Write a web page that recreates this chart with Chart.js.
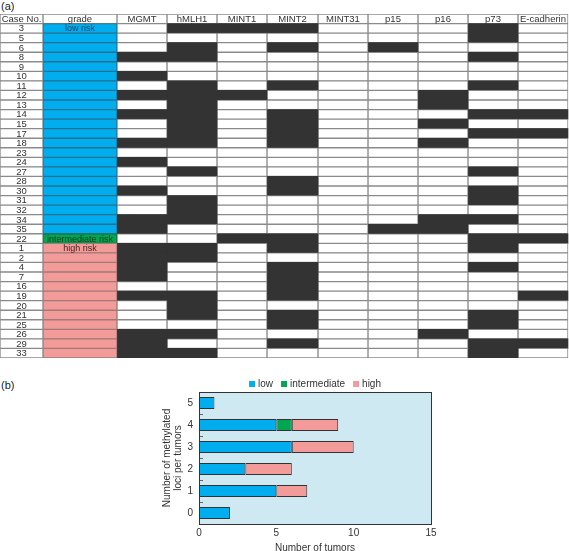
<!DOCTYPE html>
<html>
<head>
<meta charset="utf-8">
<script src="https://cdn.jsdelivr.net/npm/chart.js@4.4.1/dist/chart.umd.min.js"></script>
<style>
body { margin: 0; background: #fff; width: 569px; height: 551px; position: relative; overflow: hidden; font-family: "Liberation Sans", Arial, sans-serif; }
.panel { position: absolute; font-size: 11px; color: #222; }
#tableWrap { position: absolute; left: 0; top: 14px; width: 569px; height: 344px; }
#barWrap { position: absolute; left: 0; top: 376px; width: 569px; height: 175px; }
</style>
</head>
<body>
<div class="panel" style="left:1px;top:0px">(a)</div>
<div class="panel" style="left:1px;top:379px">(b)</div>
<div id="tableWrap"><canvas id="tableChart"></canvas></div>
<div id="barWrap"><canvas id="barChart"></canvas></div>
<script>
// (a) methylation status per case, in table order
const caseNumbers = [3, 5, 6, 8, 9, 10, 11, 12, 13, 14, 15, 17, 18, 23, 24, 27, 28, 30, 31, 32, 34, 35, 22, 1, 2, 4, 7, 16, 19, 20, 21, 25, 26, 29, 33];
const riskGrades = ["low", "low", "low", "low", "low", "low", "low", "low", "low", "low", "low", "low", "low", "low", "low", "low", "low", "low", "low", "low", "low", "low",
    "intermediate",
    "high", "high", "high", "high", "high", "high", "high", "high", "high", "high", "high", "high"];
const loci = ["MGMT", "hMLH1", "MINT1", "MINT2", "MINT31", "p15", "p16", "p73", "E-cadherin"];

const MGMT   = [0,0,0,1,0,1,0,1,0,1,0,0,1,0,1,0,0,1,0,0,1,1,0,1,1,1,1,0,1,0,0,0,1,1,1];
const hMLH1  = [1,0,1,1,0,0,1,1,1,1,1,1,1,0,0,1,0,0,1,1,1,0,0,1,1,0,0,0,1,1,1,0,1,0,1];
const MINT1  = [1,0,0,0,0,0,0,1,0,0,0,0,0,0,0,0,0,0,0,0,0,0,1,0,0,0,0,0,0,0,0,0,0,0,0];
const MINT2  = [1,0,1,0,0,0,1,0,0,1,1,1,1,0,0,0,1,1,0,0,0,0,1,1,0,1,1,1,1,0,1,1,0,1,0];
const MINT31 = [0,0,0,0,0,0,0,0,0,0,0,0,0,0,0,0,0,0,0,0,0,0,0,0,0,0,0,0,0,0,0,0,0,0,0];
const p15    = [0,0,1,0,0,0,0,0,0,0,0,0,0,0,0,0,0,0,0,0,0,1,0,0,0,0,0,0,0,0,0,0,0,0,0];
const p16    = [0,0,0,0,0,0,0,1,1,0,1,0,1,0,0,0,0,0,0,0,1,1,0,0,0,0,0,0,0,0,0,0,1,0,0];
const p73    = [1,1,0,1,0,0,1,0,0,1,0,1,0,0,0,1,0,1,1,0,1,0,1,1,0,1,0,0,0,0,1,1,0,1,1];
const ECAD   = [0,0,0,0,0,0,0,0,0,1,0,1,0,0,0,0,0,0,0,0,0,0,1,0,0,0,0,0,1,0,0,0,0,1,0];

// (b) number of tumors per count of methylated loci
const lociCounts = ["0", "1", "2", "3", "4", "5"];
const lowRisk = [2, 5, 3, 6, 5, 1];
const intermediateRisk = [0, 0, 0, 0, 1, 0];
const highRisk = [0, 2, 3, 4, 3, 0];

Chart.defaults.font.family = '"Liberation Sans", Arial, sans-serif';
Chart.defaults.font.size = 10;
Chart.defaults.color = "#333";

const methylation = [MGMT, hMLH1, MINT1, MINT2, MINT31, p15, p16, p73, ECAD];
const headers = ["Case No.", "grade"].concat(loci);
const rowLabels = ["Case No."].concat(caseNumbers.map(String));
const colEdges = [0, 43, 117, 167, 217, 267, 318, 368, 418, 468, 518, 568];
const gradeColors = { low: "#00aeef", intermediate: "#00a651", high: "#f29b98" };
const gradeLines = { low: "#2a6f8c", intermediate: "#1d6b3c", high: "#a07a7a" };
const gradeText = { low: "#1d3f5a", intermediate: "#0f3a1c", high: "#4a2222" };

function cellColor(c, r) {
    if (r === 0 || c === 0) return "#fff";
    if (c === 1) return gradeColors[riskGrades[r - 1]];
    return methylation[c - 2][r - 1] ? "#333" : "#fff";
}

function isDark(c, r) {
    return r > 0 && c > 1 && methylation[c - 2][r - 1] === 1;
}

const cellText = {
    id: "cellText",
    afterDatasetsDraw(chart) {
        const { ctx, scales: { x, y } } = chart;
        const mid = c => x.getPixelForValue((colEdges[c] + colEdges[c + 1]) / 2);
        ctx.save();
        ctx.font = '9.5px "Liberation Sans", Arial, sans-serif';
        ctx.textAlign = "center";
        ctx.textBaseline = "middle";
        ctx.fillStyle = "#333";
        headers.forEach((h, c) => ctx.fillText(h, mid(c), y.getPixelForValue(0) + 0.5));
        caseNumbers.forEach((n, i) => ctx.fillText(String(n), mid(0), y.getPixelForValue(i + 1) + 0.5));
        ctx.font = '9px "Liberation Sans", Arial, sans-serif';
        riskGrades.forEach((g, i) => {
            if (i === 0 || riskGrades[i - 1] !== g) {
                ctx.fillStyle = gradeText[g];
                ctx.fillText(g + " risk", mid(1), y.getPixelForValue(i + 1) + 0.5);
            }
        });
        ctx.restore();
    }
};

new Chart(document.getElementById("tableChart"), {
    type: "bar",
    data: {
        labels: rowLabels,
        datasets: headers.map((h, c) => ({
            label: h,
            data: rowLabels.map(() => [colEdges[c], colEdges[c + 1]]),
            grouped: false,
            barPercentage: 1,
            categoryPercentage: 1,
            borderSkipped: false,
            backgroundColor: ctx => cellColor(c, ctx.dataIndex),
            borderColor: ctx => (c === 1 && ctx.dataIndex > 0) ? gradeLines[riskGrades[ctx.dataIndex - 1]] : "#8a8a8a",
            borderWidth: ctx => isDark(c, ctx.dataIndex) ? 0 : 1
        }))
    },
    options: {
        indexAxis: "y",
        responsive: true,
        maintainAspectRatio: false,
        animation: false,
        layout: { padding: 0 },
        scales: {
            x: { type: "linear", min: 0, max: 569, display: false },
            y: { type: "category", display: false }
        },
        plugins: { legend: { display: false }, tooltip: { enabled: false } }
    },
    plugins: [cellText]
});

const plotFrame = {
    id: "plotFrame",
    beforeDraw(chart) {
        const { ctx, chartArea: a } = chart;
        ctx.save();
        ctx.fillStyle = "#cfe9f2";
        ctx.fillRect(a.left, a.top, a.right - a.left, a.bottom - a.top);
        ctx.restore();
    },
    afterDraw(chart) {
        const { ctx, chartArea: a } = chart;
        ctx.save();
        ctx.strokeStyle = "#333";
        ctx.lineWidth = 1;
        ctx.strokeRect(Math.round(a.left) + 0.5, Math.round(a.top) + 0.5, Math.round(a.right - a.left), Math.round(a.bottom - a.top));
        ctx.restore();
    }
};

const riskLegend = {
    id: "riskLegend",
    afterDraw(chart) {
        const { ctx, chartArea: a } = chart;
        const sets = chart.data.datasets;
        ctx.save();
        ctx.font = '10px "Liberation Sans", Arial, sans-serif';
        ctx.textBaseline = "middle";
        const box = 6, gap = 3, space = 8;
        const widths = sets.map(d => box + gap + ctx.measureText(d.label).width);
        const total = widths.reduce((s, w) => s + w, 0) + space * (sets.length - 1);
        let x = (a.left + a.right) / 2 - total / 2;
        const y = a.top - 8;
        sets.forEach((d, i) => {
            ctx.fillStyle = d.backgroundColor;
            ctx.fillRect(x, y - box / 2, box, box);
            ctx.fillStyle = "#333";
            ctx.fillText(d.label, x + box + gap, y + 0.5);
            x += widths[i] + space;
        });
        ctx.restore();
    }
};

new Chart(document.getElementById("barChart"), {
    type: "bar",
    data: {
        labels: lociCounts,
        datasets: [
            { label: "low", data: lowRisk.map(v => v || null), backgroundColor: "#00aeef" },
            { label: "intermediate", data: intermediateRisk.map(v => v || null), backgroundColor: "#00a651" },
            { label: "high", data: highRisk.map(v => v || null), backgroundColor: "#f29b98" }
        ]
    },
    options: {
        indexAxis: "y",
        responsive: true,
        maintainAspectRatio: false,
        animation: false,
        layout: { padding: { left: 160, right: 138, top: 15, bottom: 0 } },
        datasets: {
            bar: { borderColor: "#333", borderWidth: 1, borderSkipped: false, categoryPercentage: 0.55, barPercentage: 1 }
        },
        scales: {
            x: {
                stacked: true,
                min: 0,
                max: 15,
                ticks: { stepSize: 5, padding: 3 },
                grid: { display: false, drawTicks: false },
                border: { color: "#333", width: 1 },
                title: { display: true, text: "Number of tumors", padding: { top: 0, bottom: -3 } },
                afterFit: s => { s.height = 27; }
            },
            y: {
                stacked: true,
                reverse: true,
                ticks: { padding: 10 },
                grid: { drawOnChartArea: false, tickLength: -4, color: "#666" },
                border: { color: "#333", width: 1 },
                title: {
                    display: true,
                    text: ["Number of methylated", "loci per tumors"],
                    font: { size: 10, lineHeight: 1.1 },
                    padding: { top: 2, bottom: 0 }
                },
                afterFit: s => { s.width = 39; }
            }
        },
        plugins: { legend: { display: false }, tooltip: { enabled: false } }
    },
    plugins: [plotFrame, riskLegend]
});
</script>
</body>
</html>
